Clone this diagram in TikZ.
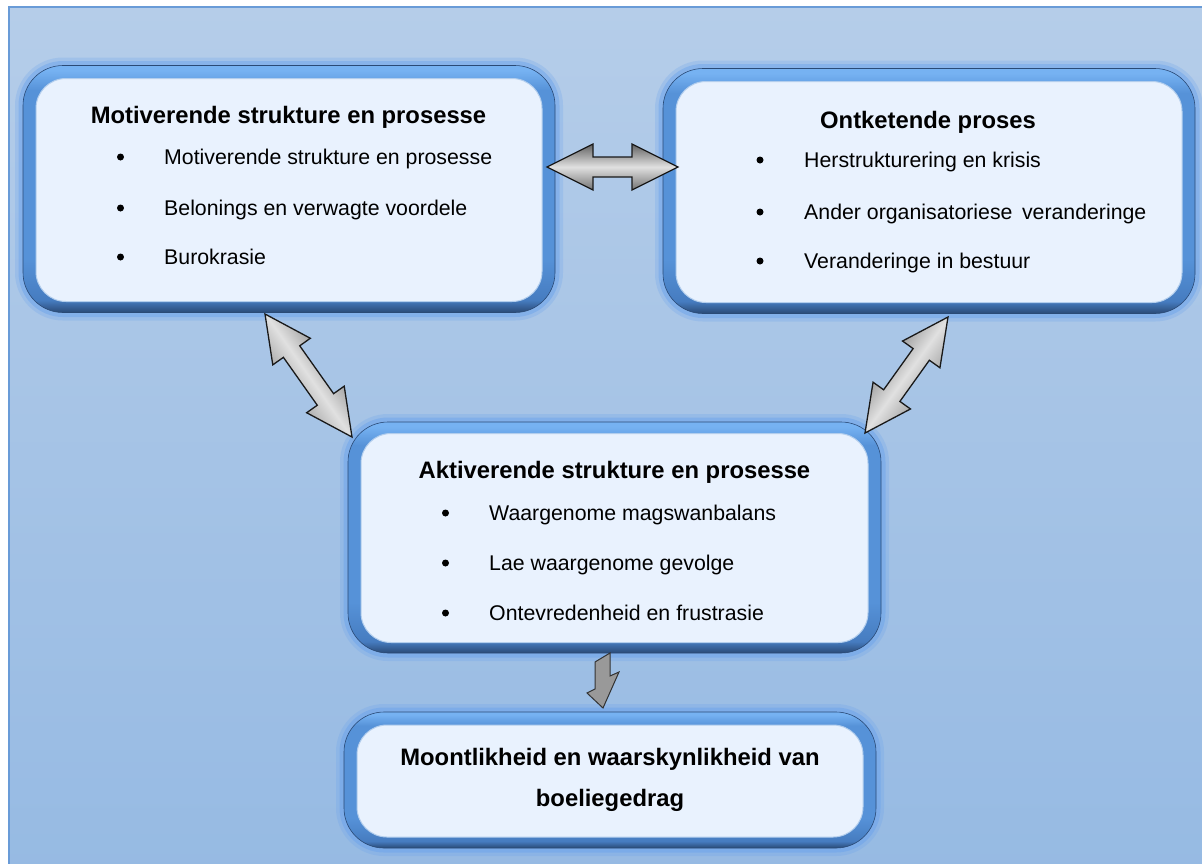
\documentclass[tikz,border=0pt]{standalone}
\usepackage{fontspec}
\setmainfont{Liberation Sans}
\usetikzlibrary{calc}
\definecolor{bgtop}{RGB}{181,205,233}
\definecolor{bgbot}{RGB}{150,186,227}
\definecolor{frameblue}{RGB}{105,155,215}
\definecolor{rimtop}{RGB}{118,178,242}
\definecolor{rimmid}{RGB}{86,146,216}
\definecolor{rimlow}{RGB}{70,124,192}
\definecolor{rimbot}{RGB}{42,74,118}
\definecolor{glow}{RGB}{105,162,236}
\definecolor{innerfill}{RGB}{233,242,254}
\pgfdeclareverticalshading{rimshade}{100bp}{color(0bp)=(rimbot); color(25bp)=(rimbot); color(27.5bp)=(rimlow); color(36bp)=(rimmid); color(70bp)=(rimmid); color(74bp)=(rimtop); color(100bp)=(rimtop)}
\tikzset{
  rimbox/.style={rectangle, rounded corners=40pt, inner sep=0pt,
    preaction={draw=glow, line width=16pt, opacity=0.25},
    preaction={draw=glow, line width=9pt, opacity=0.45},
    shading=rimshade,
    draw=rimbot, line width=0.6pt},
  innerbox/.style={rectangle, rounded corners=30pt, inner sep=0pt,
    fill=innerfill, draw=rimmid!45!white, line width=1pt},
  titletext/.style={font=\bfseries\fontsize{23.8}{28}\selectfont, inner sep=0pt, text=black},
  itemtext/.style={font=\fontsize{21.3}{25}\selectfont, inner sep=0pt, text=black},
  arrowshape/.style={draw=black!90, line width=1.3pt, line join=miter,
    top color=black!62, bottom color=black!55, middle color=black!12},
}
% double block arrow between two named coordinates: #1 from, #2 to, #3 shading angle
\newcommand{\dblarrow}[3]{%
  \path[arrowshape, shading angle=#3]
    (#1)
    -- ($(#1)!46pt!(#2)!23pt!90:(#2)$)
    -- ($(#1)!46pt!(#2)!10pt!90:(#2)$)
    -- ($(#2)!46pt!(#1)!10pt!-90:(#1)$)
    -- ($(#2)!46pt!(#1)!23pt!-90:(#1)$)
    -- (#2)
    -- ($(#2)!46pt!(#1)!23pt!90:(#1)$)
    -- ($(#2)!46pt!(#1)!10pt!90:(#1)$)
    -- ($(#1)!46pt!(#2)!10pt!-90:(#2)$)
    -- ($(#1)!46pt!(#2)!23pt!-90:(#2)$)
    -- cycle;}
% bullet item: #1 name, #2 bullet x, #3 text x, #4 y, #5 text
\newcommand{\bitem}[5]{%
  \fill[black] (#2,#4) circle[radius=3.5pt];
  \node[itemtext, anchor=base west] (#1) at (#3,#4+7.5) {#5};}
\begin{document}
\begin{tikzpicture}[x=1pt, y=-1pt]
\fill[white] (0,0) rectangle (1202,863);
\useasboundingbox (0,0) rectangle (1202,863);
\begin{scope}
\clip (0,0) rectangle (1202,863);
\draw[frameblue, line width=1.5pt, top color=bgtop, bottom color=bgbot] (9,7) rectangle (1215,876);
\end{scope}

% boxes
\node[rimbox, minimum width=532pt, minimum height=247pt] (b1) at (289,189) {};
\node[innerbox, minimum width=506pt, minimum height=223pt] (b1i) at (289,190) {};
\node[rimbox, minimum width=532pt, minimum height=245pt] (b2) at (929,191) {};
\node[innerbox, minimum width=506pt, minimum height=221pt] (b2i) at (929,192) {};
\node[rimbox, minimum width=533pt, minimum height=231pt] (b3) at (614.5,537.5) {};
\node[innerbox, minimum width=507pt, minimum height=209pt] (b3i) at (614.5,538) {};
\node[rimbox, minimum width=532pt, minimum height=136pt] (b4) at (610,780) {};
\node[innerbox, minimum width=506pt, minimum height=112pt] (b4i) at (610,781) {};

% box 1
\node[titletext, anchor=base] (t1) at (288.5,123.5) {Motiverende strukture en prosesse};
\bitem{i11}{120.5}{164}{157}{Motiverende strukture en prosesse}
\bitem{i12}{120.5}{164}{208}{Belonings en verwagte voordele}
\bitem{i13}{120.5}{164}{257}{Burokrasie}

% box 2
\node[titletext, anchor=base] (t2) at (928,128.5) {Ontketende proses};
\bitem{i21}{760}{804}{160}{Herstrukturering en krisis}
\bitem{i22}{760}{804}{212}{Ander organisatoriese\ \,veranderinge}
\bitem{i23}{760}{804}{261}{Veranderinge in bestuur}

% box 3
\node[titletext, anchor=base] (t3) at (614.5,478.5) {Aktiverende strukture en prosesse};
\bitem{i31}{445.5}{489}{513}{Waargenome magswanbalans}
\bitem{i32}{445.5}{489}{563}{Lae waargenome gevolge}
\bitem{i33}{445.5}{489}{613}{Ontevredenheid en frustrasie}

% box 4
\node[titletext, anchor=base] (t4a) at (610,765.5) {Moontlikheid en waarskynlikheid van};
\node[titletext, anchor=base] (t4b) at (610,806.5) {boeliegedrag};

% connectors
\coordinate (h1) at (547,167);
\coordinate (h2) at (678,167);
\coordinate (l1) at (265,314);
\coordinate (l2) at (352,437);
\coordinate (r1) at (865,433);
\coordinate (r2) at (948,317);
\dblarrow{h1}{h2}{0}
\dblarrow{l1}{l2}{-55}
\dblarrow{r1}{r2}{54}

\coordinate (d2) at (603,708);
\draw[draw=black!80, line width=1pt, fill=black!40, line join=miter]
  (595,662) -- (610,653) -- (610,676) -- (619,672) -- (d2) -- (587,693) -- (595,689) -- cycle;
\end{tikzpicture}
\end{document}
